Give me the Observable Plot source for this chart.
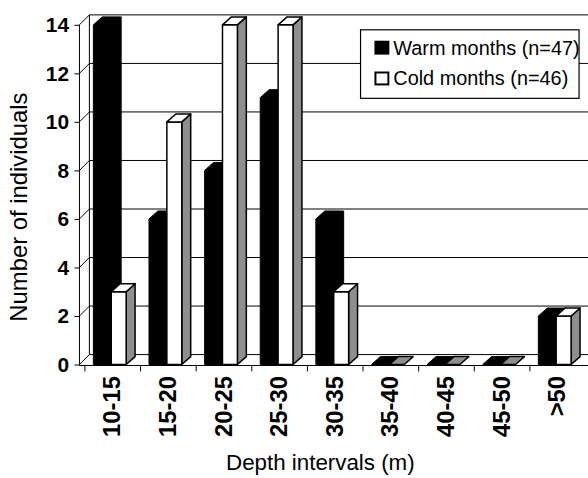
<!DOCTYPE html>
<html><head><meta charset="utf-8">
<script src="https://cdn.jsdelivr.net/npm/d3@7"></script>
<script src="https://cdn.jsdelivr.net/npm/@observablehq/plot@0.6"></script>
<style>
html,body{margin:0;padding:0;background:#fff;overflow:hidden;width:588px;height:478px}
#chart{position:relative;width:588px;height:478px;overflow:hidden}
#chart svg{display:block}
</style></head><body><div id="chart"></div>
<script>
// ---- data ----
const categories = ["10-15","15-20","20-25","25-30","30-35","35-40","40-45","45-50",">50"];
const warm = [14, 6, 8, 11, 6, 0, 0, 0, 2];
const cold = [3, 10, 14, 14, 3, 0, 0, 0, 2];
const yTicks = [0, 2, 4, 6, 8, 10, 12, 14];
const seriesNames = ["Warm months (n=47)", "Cold months (n=46)"];
const xTitle = "Depth intervals (m)";
const yTitle = "Number of individuals";

const rows = categories.flatMap((c, i) => [
  {cat: c, series: "warm", value: warm[i]},
  {cat: c, series: "cold", value: cold[i]}
]);

const FONT = "'Liberation Sans', Arial, Helvetica, sans-serif";
const SIDE = "#8e8e8e";
const BDX = 9, BDY = 8;      // bar depth
const WDX = 10, WDY = 10;    // wall depth
const geom = {warm: {l: 9, r: 28}, cold: {l: 27, r: 42}};

const pts = a => a.map(p => p.join(",")).join(" ");

function walls(index, scales, values, dims) {
  const g = d3.create("svg:g").attr("fill", "none").attr("stroke", "#000").attr("stroke-width", 1);
  const xl = dims.marginLeft, W = dims.width;
  const y = scales.y;
  for (const t of yTicks) {
    g.append("line").attr("x1", xl + WDX).attr("x2", W).attr("y1", y(t) - WDY).attr("y2", y(t) - WDY);
    g.append("line").attr("x1", xl).attr("x2", xl + WDX).attr("y1", y(t)).attr("y2", y(t) - WDY);
  }
  g.append("line").attr("x1", xl).attr("x2", xl).attr("y1", y(0) + 1).attr("y2", y(14));
  g.append("line").attr("x1", xl + WDX).attr("x2", xl + WDX).attr("y1", y(0) - WDY).attr("y2", y(14) - WDY);
  g.append("line").attr("x1", xl).attr("x2", W).attr("y1", y(0) + 1).attr("y2", y(0) + 1);
  for (const c of categories) {
    const x = Math.round(scales.x(c)) + 0.5;
    g.append("line").attr("x1", x).attr("x2", x).attr("y1", y(0) + 1).attr("y2", y(0) + 7);
  }
  return g.node();
}

function bars3d(index, scales, values, dims) {
  const g = d3.create("svg:g").attr("stroke-linejoin", "round");
  const y0 = scales.y(0);
  for (const c of categories) {
    const x0 = scales.x(c);
    for (const s of ["warm", "cold"]) {
      const d = rows.find(r => r.cat === c && r.series === s);
      const yv = scales.y(d.value);
      const L = x0 + geom[s].l, R = x0 + geom[s].r;
      if (s === "warm") {
        g.append("polygon").attr("fill", "#000").attr("stroke", "#000")
          .attr("points", pts([[L, y0], [L, yv], [L + BDX, yv - BDY], [R + BDX, yv - BDY], [R + BDX, y0 - BDY], [R, y0]]));
      } else {
        if (d.value > 0) {
          g.append("polygon").attr("fill", SIDE).attr("stroke", "#000").attr("stroke-width", 1.5)
            .attr("points", pts([[R, yv], [R + BDX, yv - BDY], [R + BDX, y0 - BDY], [R, y0]]));
          g.append("rect").attr("x", L).attr("y", yv).attr("width", R - L).attr("height", y0 - yv)
            .attr("fill", "#fff").attr("stroke", "#000").attr("stroke-width", 1.5);
        }
        g.append("polygon").attr("fill", d.value > 0 ? "#fff" : SIDE).attr("stroke", "#000").attr("stroke-width", 1.5)
          .attr("points", pts([[L, yv], [L + BDX, yv - BDY], [R + BDX, yv - BDY], [R, yv]]));
      }
    }
  }
  return g.node();
}

function legend(index, scales, values, dims) {
  const g = d3.create("svg:g");
  const bx = dims.width - 229, by = 30, bw = 220, bh = 69;
  g.append("rect").attr("x", bx).attr("y", by).attr("width", bw).attr("height", bh)
    .attr("fill", "#fff").attr("stroke", "#000").attr("stroke-width", 1.2);
  seriesNames.forEach((name, i) => {
    const cy = by + 18 + i * 31;
    g.append("rect").attr("x", bx + 15).attr("y", cy - 6).attr("width", 13).attr("height", 12)
      .attr("fill", i === 0 ? "#000" : "#fff").attr("stroke", "#000").attr("stroke-width", 2);
    g.append("text").attr("x", bx + 33).attr("y", cy).attr("dy", "0.35em")
      .attr("text-anchor", "start")
      .attr("font-size", 20).attr("font-family", FONT).attr("fill", "#000").text(name);
  });
  return g.node();
}

const chart = Plot.plot({
  width: 592,
  height: 478,
  marginLeft: 80,
  marginRight: 0,
  marginTop: 25,
  marginBottom: 111,
  style: {fontFamily: FONT, color: "#000", background: "#fff"},
  x: {type: "band", domain: categories, range: [81, 592], padding: 0},
  y: {domain: [0, 14]},
  marks: [
    Plot.frame({stroke: "none", render: walls}),
    Plot.barY(rows, {x: "cat", y: "value", render: bars3d}),
    Plot.frame({stroke: "none", render: legend}),
    Plot.axisY(yTicks, {tickSize: 5, tickPadding: 6, fontSize: 21, fontWeight: "bold", label: null}),
    Plot.axisX({tickRotate: -90, tickSize: 0, tickPadding: 11, fontSize: 24, fontWeight: "bold", label: null}),
    Plot.text([xTitle], {frameAnchor: "bottom", lineAnchor: "bottom", textAnchor: "middle", dx: -14, dy: 106, fontSize: 22.5}),
    Plot.text([yTitle], {frameAnchor: "left", textAnchor: "middle", lineAnchor: "middle", rotate: -90, dx: -61, dy: 12, fontSize: 24})
  ]
});
document.getElementById("chart").appendChild(chart);
</script>
</body></html>
